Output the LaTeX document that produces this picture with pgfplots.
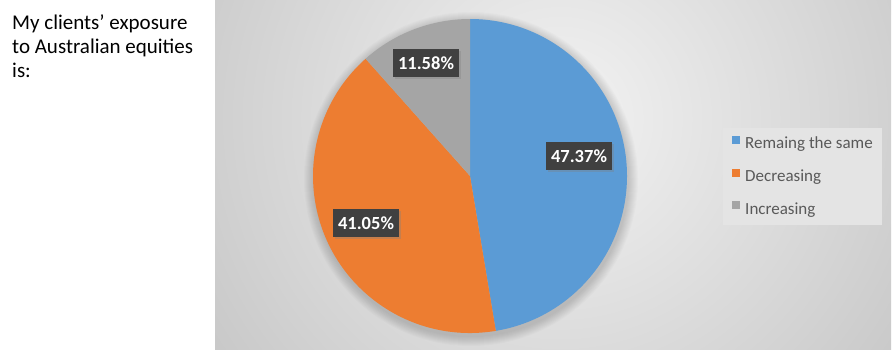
\documentclass[border=0pt]{standalone}
\usepackage{pgfplots}
\pgfplotsset{compat=1.18}
\usepackage{pgfplotstable}
\usepackage{fontspec}
\setmainfont{Carlito}
\usetikzlibrary{shadows}

\definecolor{cblue}{HTML}{5B9BD5}
\definecolor{corange}{HTML}{ED7D31}
\definecolor{cgray}{HTML}{A5A5A5}
\definecolor{lblbg}{HTML}{404040}
\definecolor{legtext}{HTML}{595959}
\definecolor{legbg}{HTML}{E4E4E4}
\definecolor{bginner}{HTML}{F3F3F3}
\definecolor{bgouter}{HTML}{C6C6C6}

\pgfplotstableread{
idx value
0 47.37
1 41.05
2 11.58
}\piedata

\begin{document}
\begin{tikzpicture}[x=1pt,y=1pt]
\pgfplotstablegetelem{0}{value}\of\piedata\let\va\pgfplotsretval
\pgfplotstablegetelem{1}{value}\of\piedata\let\vb\pgfplotsretval
\pgfplotstablegetelem{2}{value}\of\piedata\let\vc\pgfplotsretval
\pgfmathsetmacro{\aA}{90}%
\pgfmathsetmacro{\aB}{90-3.6*\va}%
\pgfmathsetmacro{\aC}{\aB-3.6*\vb}%
\pgfmathsetmacro{\aD}{\aC-3.6*\vc}%
\path[use as bounding box] (0,0) rectangle (893,349);
\fill[white] (0,0) rectangle (893,349);
\begin{scope}
\clip (215,0) rectangle (891,349);
\shade[inner color=bginner, outer color=bgouter] (560,230) circle (440);
\end{scope}
\node[anchor=base west, inner sep=0, font=\fontsize{21}{24}\selectfont] at (12,319.5) {My clients’ exposure};
\node[anchor=base west, inner sep=0, font=\fontsize{21}{24}\selectfont] at (12,295.5) {to Australian equities};
\node[anchor=base west, inner sep=0, font=\fontsize{21}{24}\selectfont] at (12,271.5) {is:};
\begin{axis}[
  at={(0,0)}, anchor=south west,
  width=893pt, height=349pt, scale only axis,
  xmin=0, xmax=893, ymin=0, ymax=349,
  hide axis, clip=false,
  legend image code/.code={\fill[#1,draw=none] (0pt,0.5pt) rectangle (8pt,8.5pt);},
  legend cell align=left,
  legend style={at={(0.80963,0.63324)}, anchor=north west, draw=none, fill=legbg,
    font=\fontsize{17}{18}\selectfont, text=legtext,
    row sep=16.5pt, inner xsep=9pt, inner ysep=7.75pt,
    nodes={inner sep=0pt, text height=12pt, text depth=3.5pt},
    /tikz/every odd column/.append style={column sep=5pt}},
]
\pgfplotsinvokeforeach{1,2,3,4,5,6,7,8,9,10}{
  \fill[black, opacity=0.014] (axis cs:471,170) circle[radius=157pt+#1pt];
}
\fill[cblue] (axis cs:470,173) -- ++(\aA:157pt) arc[start angle=\aA, end angle=\aB, radius=157pt] -- cycle;
\fill[corange] (axis cs:470,173) -- ++(\aB:157pt) arc[start angle=\aB, end angle=\aC, radius=157pt] -- cycle;
\fill[cgray] (axis cs:470,173) -- ++(\aC:157pt) arc[start angle=\aC, end angle=\aD, radius=157pt] -- cycle;
\addlegendimage{cblue}
\addlegendentry{Remaing the same}
\addlegendimage{corange}
\addlegendentry{Decreasing}
\addlegendimage{cgray}
\addlegendentry{Increasing}
\tikzset{lbl/.style={fill=lblbg, text=white, font=\bfseries\fontsize{18.5}{20}\selectfont,
  inner xsep=5pt, inner ysep=8pt, text height=12pt, text depth=0pt,
  drop shadow={opacity=0.35, shadow xshift=2pt, shadow yshift=-2pt}}}
\pgfkeys{/pgf/number format/.cd, fixed, precision=2, fixed zerofill, assume math mode=true}
\node[lbl] at (axis cs:579,193) {\pgfmathprintnumber{\va}\%};
\node[lbl] at (axis cs:366,126) {\pgfmathprintnumber{\vb}\%};
\node[lbl] at (axis cs:426,286) {\pgfmathprintnumber{\vc}\%};
\end{axis}
\end{tikzpicture}
\end{document}
